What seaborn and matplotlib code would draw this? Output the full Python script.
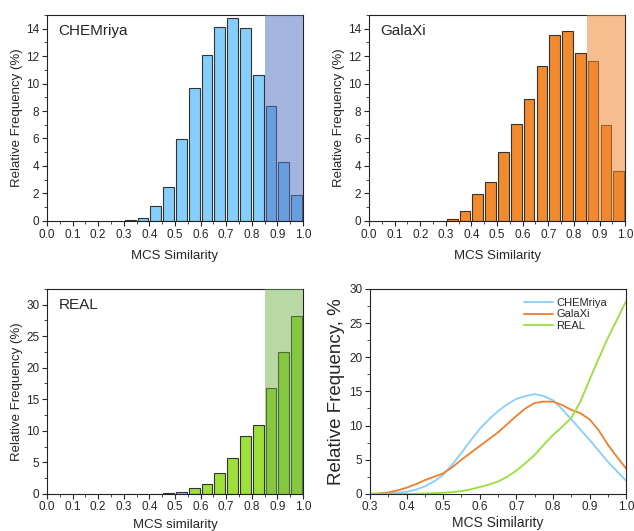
import numpy as np
import pandas as pd
import matplotlib
matplotlib.use('Agg')
import matplotlib.pyplot as plt
from matplotlib.ticker import MultipleLocator
import seaborn as sns

# histogram bins 0.30-1.00, width 0.05
bin_edges = [0.30, 0.35, 0.40, 0.45, 0.50, 0.55, 0.60, 0.65, 0.70, 0.75, 0.80, 0.85, 0.90, 0.95, 1.00]
chemriya_hist = [0.03, 0.2, 1.1, 2.5, 5.95, 9.65, 12.1, 14.1, 14.8, 14.05, 10.6, 8.4, 4.3, 1.9]
galaxi_hist = [0.15, 0.7, 1.95, 2.8, 5.05, 7.05, 8.9, 11.3, 13.55, 13.8, 12.2, 11.65, 6.95, 3.65]
real_hist = [0.0, 0.0, 0.0, 0.1, 0.35, 0.9, 1.6, 3.35, 5.7, 9.2, 10.9, 16.8, 22.5, 28.2]

# smoothed curves
curve_x = [0.300, 0.325, 0.350, 0.375, 0.400, 0.425, 0.450, 0.475, 0.500, 0.525, 0.550, 0.575,
           0.600, 0.625, 0.650, 0.675, 0.700, 0.725, 0.750, 0.775, 0.800, 0.825, 0.850, 0.875,
           0.900, 0.925, 0.950, 0.975, 1.000]
chemriya_curve = [0.0, 0.0, 0.05, 0.15, 0.3, 0.6, 1.1, 1.8, 2.8, 4.3, 6.0, 7.8,
                  9.5, 10.9, 12.1, 13.1, 13.9, 14.3, 14.6, 14.3, 13.7, 12.4, 10.9, 9.4,
                  7.9, 6.3, 4.7, 3.3, 1.9]
galaxi_curve = [0.0, 0.05, 0.2, 0.5, 0.9, 1.4, 2.0, 2.5, 3.0, 3.9, 5.0, 6.0,
                7.0, 8.0, 9.0, 10.2, 11.4, 12.5, 13.3, 13.5, 13.5, 13.0, 12.3, 11.8,
                10.9, 9.3, 7.2, 5.4, 3.7]
real_curve = [0.0, 0.0, 0.0, 0.0, 0.0, 0.0, 0.05, 0.1, 0.15, 0.25, 0.4, 0.65,
              1.0, 1.35, 1.8, 2.5, 3.4, 4.5, 5.7, 7.2, 8.6, 9.8, 11.1, 13.5,
              16.7, 19.8, 22.8, 25.5, 28.2]

names = ['CHEMriya', 'GalaXi', 'REAL']
bar_colors = ['#86CFFD', '#F28A2E', '#9EE03A']
shade_colors = ['#5173C4', '#F08732', '#6BAE46']
shade_alpha = [0.53, 0.55, 0.48]
line_colors = ['#86CFFD', '#F07E2A', '#98E03A']

sns.set_style('ticks')
plt.rcParams['font.family'] = ['Liberation Sans', 'DejaVu Sans']
plt.rcParams['xtick.direction'] = 'out'
plt.rcParams['ytick.direction'] = 'out'

fig = plt.figure(figsize=(6.34, 5.31), dpi=100)
ax_tl = fig.add_axes([0.074, 0.584, 0.404, 0.388])
ax_tr = fig.add_axes([0.582, 0.584, 0.404, 0.388])
ax_bl = fig.add_axes([0.074, 0.070, 0.404, 0.386])
ax_br = fig.add_axes([0.5836, 0.070, 0.404, 0.386])

centers = [(a + b) / 2 for a, b in zip(bin_edges[:-1], bin_edges[1:])]
hists = [chemriya_hist, galaxi_hist, real_hist]
xlabels = ['MCS Similarity', 'MCS Similarity', 'MCS similarity']
ylims = [15, 15, 32.5]
xpads = [7, 7, 4]

for i, ax in enumerate([ax_tl, ax_tr, ax_bl]):
    sns.histplot(x=centers, weights=hists[i], bins=bin_edges, shrink=0.84, ax=ax,
                 color=bar_colors[i], edgecolor='#333333', linewidth=0.8, alpha=1)
    ax.axvspan(0.85, 1.0, color=shade_colors[i], alpha=shade_alpha[i], lw=0, zorder=5)
    ax.set_xlim(0, 1.0)
    ax.set_ylim(0, ylims[i])
    ax.xaxis.set_major_locator(MultipleLocator(0.1))
    ax.xaxis.set_minor_locator(MultipleLocator(0.05))
    if i < 2:
        ax.yaxis.set_major_locator(MultipleLocator(2))
        ax.yaxis.set_minor_locator(MultipleLocator(1))
    else:
        ax.yaxis.set_major_locator(MultipleLocator(5))
        ax.yaxis.set_minor_locator(MultipleLocator(2.5))
    ax.set_xlabel(xlabels[i], fontsize=9.5, labelpad=xpads[i])
    ax.set_ylabel('Relative Frequency (%)', fontsize=9.5, labelpad=2)
    ax.text(0.045, 0.92, names[i], transform=ax.transAxes, fontsize=11, va='center')
    ax.tick_params(labelsize=8.5, length=3.5, width=0.8, pad=2)
    ax.tick_params(which='minor', length=2, width=0.6)

# combined curves
curves = pd.DataFrame({
    'x': curve_x * 3,
    'y': chemriya_curve + galaxi_curve + real_curve,
    'set': [n for n in names for _ in curve_x],
})
sns.lineplot(data=curves, x='x', y='y', hue='set', palette=line_colors, ax=ax_br, linewidth=1.3)
ax_br.set_xlim(0.3, 1.0)
ax_br.set_ylim(0, 30)
ax_br.xaxis.set_major_locator(MultipleLocator(0.1))
ax_br.xaxis.set_minor_locator(MultipleLocator(0.05))
ax_br.yaxis.set_major_locator(MultipleLocator(5))
ax_br.yaxis.set_minor_locator(MultipleLocator(2.5))
ax_br.set_xlabel('MCS Similarity', fontsize=10, labelpad=2)
ax_br.set_ylabel('Relative Frequency, %', fontsize=13.5, labelpad=3)
ax_br.tick_params(labelsize=8.5, length=3.5, width=0.8, pad=2)
ax_br.tick_params(which='minor', length=2, width=0.6)
ax_br.legend(title=None, frameon=False, loc='upper right', fontsize=8,
             handlelength=2.6, handletextpad=0.3, labelspacing=0.15,
             borderaxespad=0.4, bbox_to_anchor=(0.96, 1.0))

for ax in [ax_tl, ax_tr, ax_bl, ax_br]:
    for s in ax.spines.values():
        s.set_visible(True)
        s.set_linewidth(0.8)
        s.set_color('#222222')

fig.savefig('out.png', dpi=100)
